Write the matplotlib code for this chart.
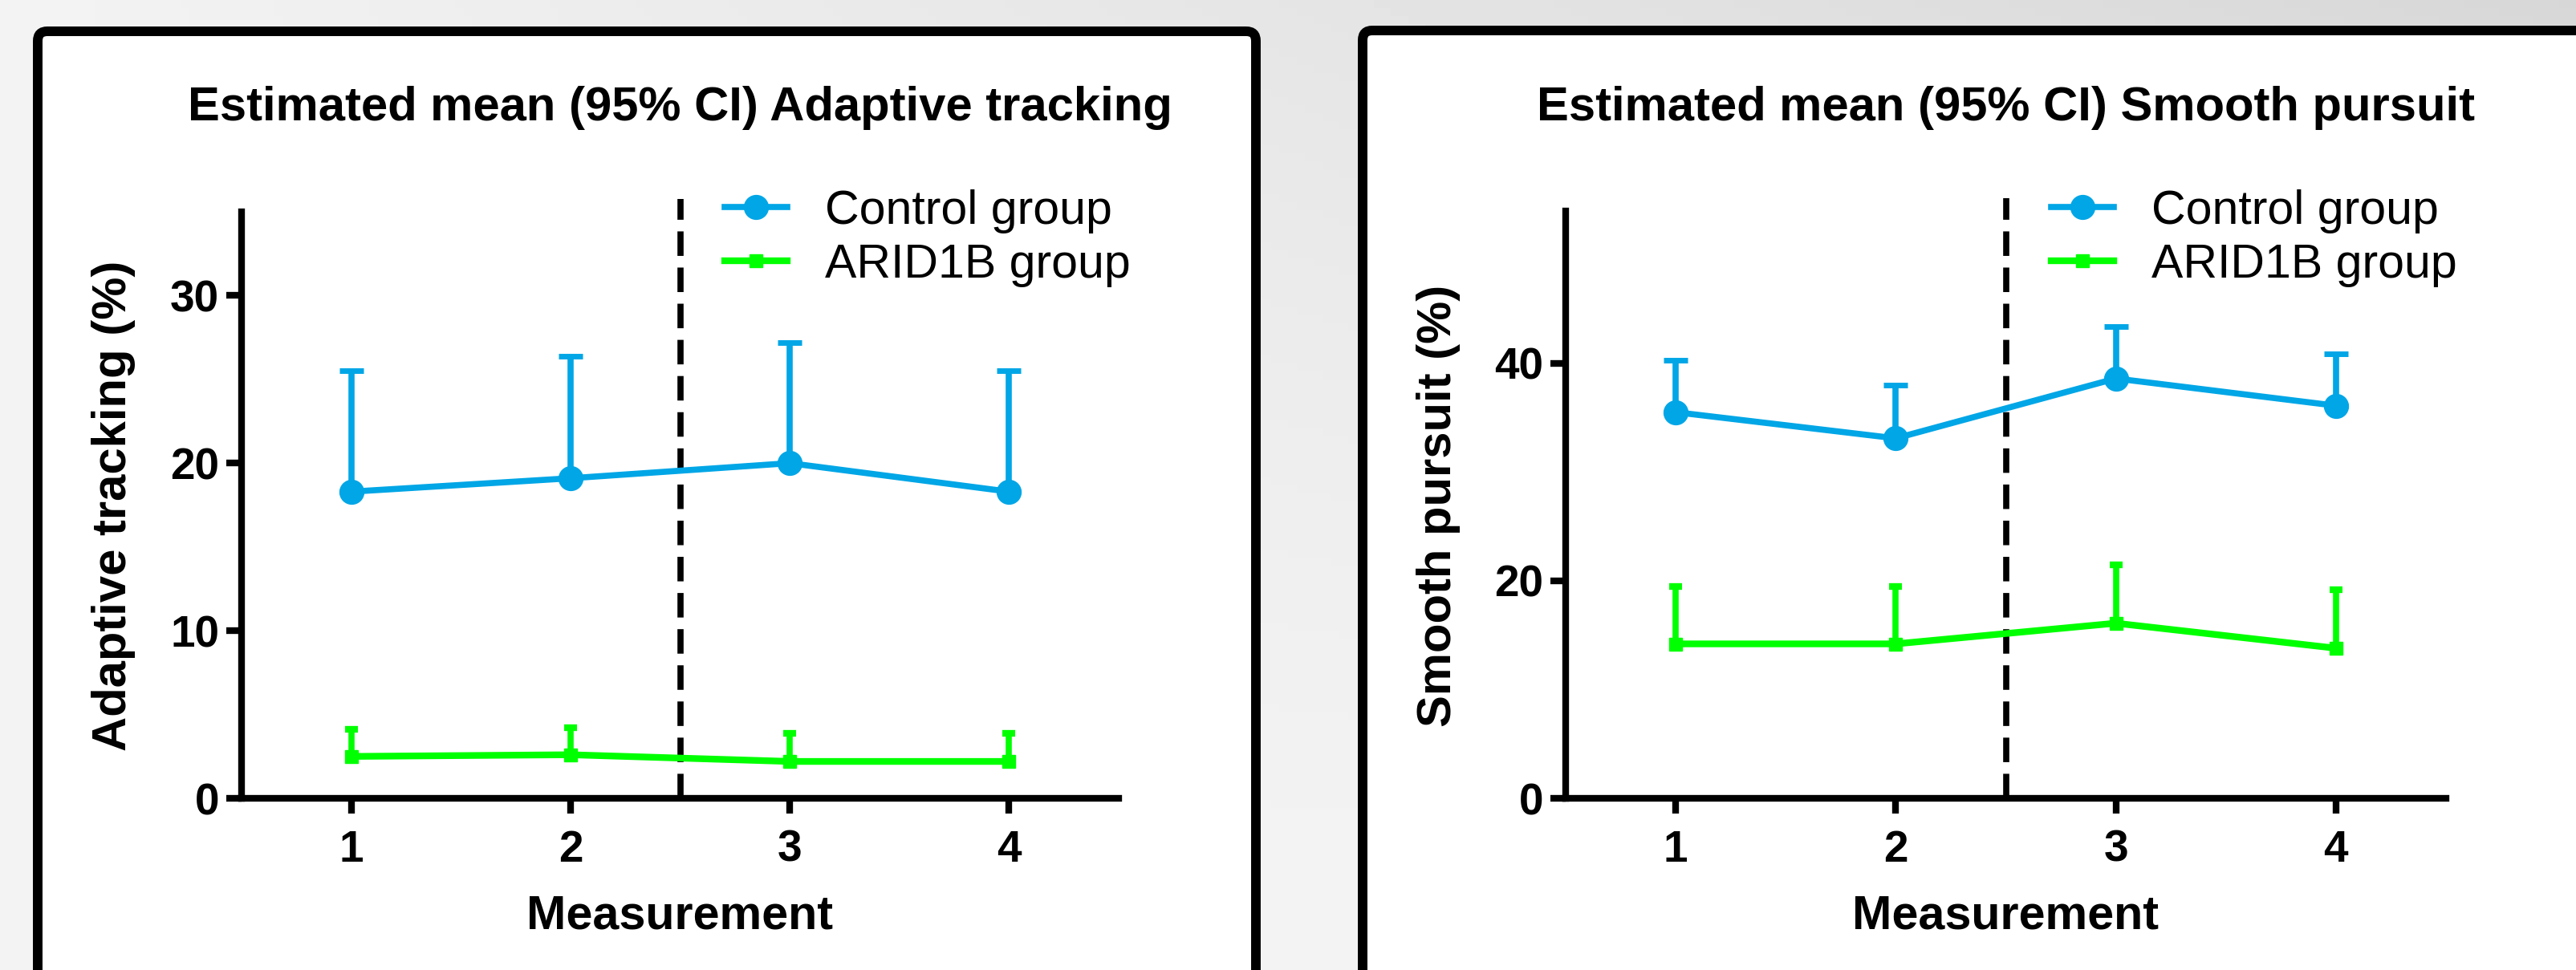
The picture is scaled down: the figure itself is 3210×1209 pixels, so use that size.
import numpy as np
import matplotlib
matplotlib.use("Agg")
import matplotlib.pyplot as plt
from matplotlib.lines import Line2D
from matplotlib.patches import FancyBboxPatch
from matplotlib.transforms import blended_transform_factory

# data
measurements = [1, 2, 3, 4]
divider = 2.5
group_labels = ["Control group", "ARID1B group"]

adaptive_ctrl_mean = [18.3, 19.1, 20.0, 18.3]
adaptive_ctrl_upper = [25.5, 26.4, 27.2, 25.5]
adaptive_arid_mean = [2.5, 2.6, 2.2, 2.2]
adaptive_arid_upper = [4.1, 4.2, 3.9, 3.9]

smooth_ctrl_mean = [35.5, 33.1, 38.6, 36.1]
smooth_ctrl_upper = [40.3, 38.0, 43.4, 40.9]
smooth_arid_mean = [14.2, 14.2, 16.1, 13.8]
smooth_arid_upper = [19.5, 19.5, 21.5, 19.2]

W, H = 3210, 1209
BLUE = "#00A6E6"
GREEN = "#00FF00"
FONT = ["Liberation Sans", "DejaVu Sans"]
plt.rcParams["font.family"] = FONT

fig = plt.figure(figsize=(W / 100, H / 100), dpi=100)

# grey gradient background + the two framed panels
bg = fig.add_axes([0, 0, 1, 1], zorder=-10)
bg.set_xlim(0, W)
bg.set_ylim(H, 0)
bg.axis("off")
gx, gy = np.meshgrid(np.linspace(0, 1, 300), np.linspace(0, 1, 120))
shade = (243 - 28 * gx * (1 - gy) ** 1.5) / 255
bg.imshow(shade, cmap="gray", vmin=0, vmax=1, extent=[0, W, H, 0], aspect="auto")
for x0, x1, y0 in [(47, 1565, 39), (1698, 3300, 38)]:
    bg.add_patch(FancyBboxPatch((x0, y0), x1 - x0, 1300 - y0,
                                boxstyle="round,pad=0,rounding_size=12",
                                facecolor="white", edgecolor="black", lw=8.6))


def px_axes(left, right, top, bottom):
    return fig.add_axes([left / W, 1 - bottom / H, (right - left) / W, (bottom - top) / H])


ctrl_style = dict(color=BLUE, lw=5.5, marker="o", ms=21.5)
arid_style = dict(color=GREEN, lw=6, marker="s", ms=11.5)


def draw_panel(ax, ctrl_mean, ctrl_up, arid_mean, arid_up, ymax, yticks):
    ctrl_mean = np.array(ctrl_mean)
    arid_mean = np.array(arid_mean)
    ax.errorbar(measurements, ctrl_mean,
                yerr=[np.zeros(4), np.array(ctrl_up) - ctrl_mean],
                elinewidth=5.5, capsize=10.5, capthick=5, clip_on=False, **ctrl_style)
    ax.errorbar(measurements, arid_mean,
                yerr=[np.zeros(4), np.array(arid_up) - arid_mean],
                elinewidth=5.5, capsize=5.6, capthick=6, clip_on=False, **arid_style)
    trans = blended_transform_factory(ax.transData, ax.transAxes)
    ax.plot([divider, divider], [0, 1.022], transform=trans, color="black",
            lw=5.5, linestyle=(0, (4.0, 1.9)), clip_on=False)
    ax.set_xlim(0.5, 4.5)
    ax.set_ylim(0, ymax)
    ax.set_xticks(measurements)
    ax.set_yticks(yticks)
    ax.set_facecolor("none")
    for s in ["top", "right"]:
        ax.spines[s].set_visible(False)
    for s in ["left", "bottom"]:
        ax.spines[s].set_linewidth(6)
    ax.tick_params(width=6, length=14, labelsize=39.5)
    ax.tick_params(axis="x", pad=14)
    ax.tick_params(axis="y", pad=6)
    for lbl in ax.get_xticklabels() + ax.get_yticklabels():
        lbl.set_fontweight("bold")


ax1 = px_axes(301, 1394, 264, 995)
draw_panel(ax1, adaptive_ctrl_mean, adaptive_ctrl_upper,
           adaptive_arid_mean, adaptive_arid_upper, 35, [0, 10, 20, 30])
ax2 = px_axes(1951, 3048, 263, 995)
draw_panel(ax2, smooth_ctrl_mean, smooth_ctrl_upper,
           smooth_arid_mean, smooth_arid_upper, 54, [0, 20, 40])

titles = ["Estimated mean (95% CI) Adaptive tracking",
          "Estimated mean (95% CI) Smooth pursuit"]
ylabels = ["Adaptive tracking (%)", "Smooth pursuit (%)"]
handles = [Line2D([], [], **ctrl_style), Line2D([], [], **arid_style)]
for ax, title, ylab, ylab_x, leg_x in [(ax1, titles[0], ylabels[0], 142, 903),
                                       (ax2, titles[1], ylabels[1], 1792, 2556)]:
    cx = (ax.get_position().x0 + ax.get_position().x1) / 2
    fig.text(cx, 1 - 150 / H, title, ha="center", va="baseline",
             fontweight="bold", fontsize=43)
    fig.text(cx, 1 - 1158 / H, "Measurement", ha="center", va="baseline",
             fontweight="bold", fontsize=42.7)
    fig.text(ylab_x / W, 1 - 630 / H, ylab, ha="center", va="center",
             rotation=90, fontweight="bold", fontsize=43)
    ax.legend(handles, group_labels, loc="center left",
              bbox_to_anchor=(leg_x / W, 1 - 297 / H),
              bbox_transform=fig.transFigure, frameon=False,
              borderpad=0, borderaxespad=0, handlelength=1.32,
              handletextpad=0.8, labelspacing=0.2, fontsize=42.5)

fig.savefig("out.png", dpi=100)
